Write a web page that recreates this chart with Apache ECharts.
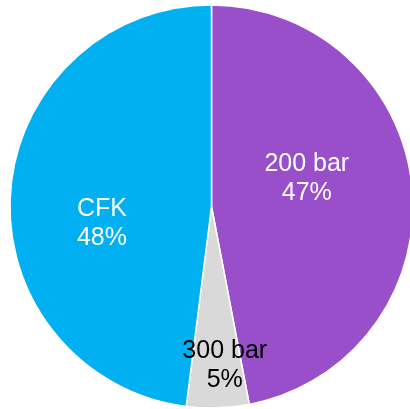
<!DOCTYPE html>
<html>
<head>
<meta charset="utf-8">
<style>
  html, body { margin: 0; padding: 0; background: #fff; }
  #chart { width: 410px; height: 409px; }
</style>
<script src="https://cdn.jsdelivr.net/npm/echarts@6/dist/echarts.min.js"></script>
</head>
<body>
<div id="chart"></div>
<script>
// Share of pressure vessel types
const categories = ['200 bar', '300 bar', 'CFK'];
const values = [47, 5, 48];
const colors = ['#994fc9', '#d9d9d9', '#00b0f0'];
const labelColors = ['#ffffff', '#000000', '#ffffff'];
const labelOffsets = [[-8, -18], [10, 55], [-6, 24]];

const chart = echarts.init(document.getElementById('chart'), null, { renderer: 'canvas' });

chart.setOption({
  animation: false,
  backgroundColor: '#ffffff',
  series: [{
    type: 'pie',
    center: [211.5, 206.5],
    radius: [0, 201.5],
    startAngle: 90,
    clockwise: true,
    avoidLabelOverlap: false,
    itemStyle: { borderColor: '#ffffff', borderWidth: 1.5 },
    label: {
      show: true,
      position: 'inside',
      fontFamily: '"Liberation Sans", Arial, sans-serif',
      fontSize: 25,
      lineHeight: 29,
      align: 'center',
      formatter: p => p.name + '\n' + Math.round(p.percent) + '%'
    },
    labelLine: { show: false },
    data: categories.map((name, i) => ({
      name,
      value: values[i],
      itemStyle: { color: colors[i] },
      label: { color: labelColors[i], offset: labelOffsets[i] }
    }))
  }]
});
</script>
</body>
</html>
